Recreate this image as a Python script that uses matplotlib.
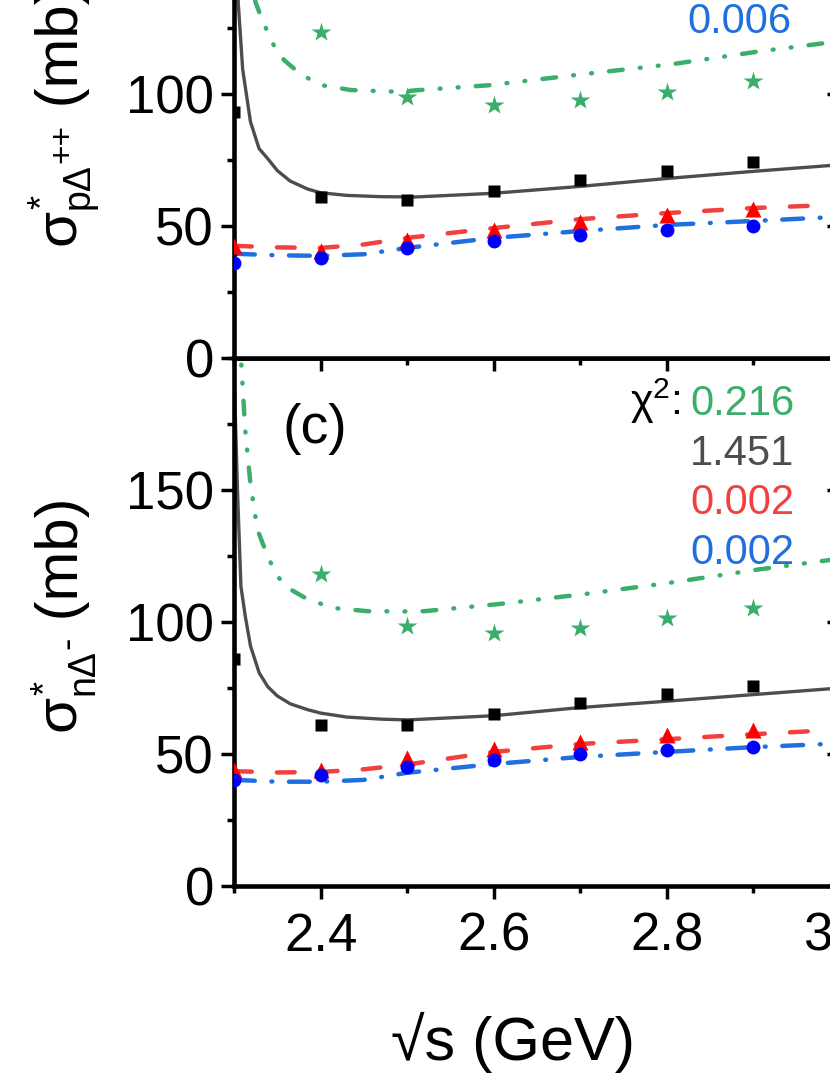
import matplotlib
matplotlib.use('Agg')
import matplotlib.pyplot as plt
from matplotlib.ticker import MultipleLocator, FormatStrFormatter, FixedLocator

plt.rcParams['font.family'] = ['Liberation Sans', 'DejaVu Sans']
plt.rcParams['mathtext.fontset'] = 'custom'
plt.rcParams['mathtext.rm'] = 'Liberation Sans'
plt.rcParams['mathtext.it'] = 'Liberation Sans:italic'
plt.rcParams['mathtext.bf'] = 'Liberation Sans:bold'
plt.rcParams['mathtext.sf'] = 'Liberation Sans'
plt.rcParams['lines.scale_dashes'] = False

# ---------------- data ----------------
x_pts = [2.3, 2.4, 2.5, 2.6, 2.7, 2.8, 2.9]
x_star = [2.4, 2.5, 2.6, 2.7, 2.8, 2.9]

# top panel: p Delta++
top_sq = [93.2, 60.9, 59.8, 63.2, 67.3, 71.0, 74.4]
top_tri = [42.5, 40.6, 44.7, 48.5, 51.5, 54.1, 56.4]
top_cir = [36.1, 38.0, 41.7, 44.4, 46.6, 48.5, 50.0]
top_star = [123.3, 98.9, 95.9, 97.7, 100.7, 104.9]

top_gray_x = [2.301, 2.305, 2.310, 2.319, 2.329, 2.339, 2.35, 2.365, 2.385, 2.4, 2.43, 2.47, 2.51, 2.6, 2.7, 2.8, 2.9, 3.0]
top_gray_y = [175.0, 134.0, 109.4, 89.5, 79.3, 75.5, 71.0, 67.0, 64.0, 62.6, 61.6, 61.1, 61.0, 62.4, 65.0, 68.0, 70.7, 73.2]
top_green_x = [2.303, 2.31, 2.318, 2.325, 2.334, 2.346, 2.358, 2.377, 2.4, 2.435, 2.492, 2.51, 2.594, 2.703, 2.806, 2.906, 3.0]
top_green_y = [260.0, 180.0, 148.0, 134.6, 127.0, 118.4, 112.8, 107.5, 103.4, 101.5, 100.8, 101.4, 103.3, 107.5, 111.3, 116.1, 120.0]
top_red_x = [2.3, 2.35, 2.4, 2.45, 2.5, 2.6, 2.7, 2.8, 2.9, 3.0]
top_red_y = [42.5, 41.9, 41.7, 43.0, 45.5, 49.2, 52.6, 54.9, 56.8, 58.1]
top_blue_x = [2.3, 2.35, 2.4, 2.45, 2.5, 2.6, 2.7, 2.8, 2.9, 3.0]
top_blue_y = [39.5, 38.9, 38.7, 39.3, 41.7, 45.5, 48.1, 50.4, 51.9, 53.5]

# bottom panel: n Delta-
bot_sq = [86.1, 60.9, 60.9, 65.0, 69.2, 72.9, 75.9]
bot_tri = [44.0, 44.0, 48.5, 51.9, 54.5, 57.1, 59.0]
bot_cir = [40.2, 42.1, 45.1, 47.7, 50.0, 51.5, 52.6]
bot_star = [118.0, 98.5, 95.9, 97.7, 101.5, 105.3]

bot_gray_x = [2.3005, 2.304, 2.308, 2.313, 2.319, 2.329, 2.339, 2.35, 2.365, 2.385, 2.4, 2.43, 2.47, 2.5, 2.6, 2.7, 2.8, 2.9, 3.0]
bot_gray_y = [189.5, 150.0, 113.5, 102.2, 91.0, 80.8, 75.5, 72.0, 69.0, 66.8, 65.5, 64.0, 63.2, 62.9, 64.5, 67.6, 70.0, 72.5, 75.0]
bot_green_x = [2.303, 2.308, 2.313, 2.319, 2.327, 2.339, 2.35, 2.365, 2.385, 2.415, 2.454, 2.5, 2.52, 2.606, 2.703, 2.8, 2.906, 3.0]
bot_green_y = [260.0, 200.0, 172.6, 152.3, 135.0, 124.8, 117.3, 112.4, 108.6, 105.3, 104.1, 104.0, 104.1, 106.8, 110.5, 114.7, 119.9, 124.0]
bot_red_x = [2.3, 2.35, 2.4, 2.45, 2.5, 2.6, 2.7, 2.8, 2.9, 3.0]
bot_red_y = [43.5, 43.0, 43.2, 44.2, 46.0, 50.8, 53.8, 55.6, 57.5, 59.2]
bot_blue_x = [2.3, 2.35, 2.4, 2.45, 2.5, 2.6, 2.7, 2.8, 2.9, 3.0]
bot_blue_y = [40.2, 39.5, 39.5, 40.2, 42.9, 46.2, 48.9, 50.8, 52.6, 54.0]

chi_bottom = ['0.216', '1.451', '0.002', '0.002']
chi_top_visible = '0.006'

# ---------------- style ----------------
C_GREEN = '#3AAE6A'
C_GRAY = '#4D4D4D'
C_RED = '#F04040'
C_BLUE = '#1F6FDE'
C_TRI = '#FF0000'
C_CIR = '#0000FF'

W, H = 830, 1075
fig = plt.figure(figsize=(W / 100, H / 100), dpi=100)

L, R = 234, 840
B_bot, T_bot = 886, 358
ph = (B_bot - T_bot)

ax_bot = fig.add_axes([L / W, 1 - B_bot / H, (R - L) / W, ph / H])
ax_top = fig.add_axes([L / W, 1 - T_bot / H, (R - L) / W, ph / H])

SPW = 3.3
LW_D = 3.2

def draw(ax, sq, tri, cir, star, gx, gy, grx, gry, rx, ry, bx, by):
    ax.plot(grx, gry, color=C_GREEN, lw=LW_D, dash_capstyle='round',
            linestyle=(0, (9.9, 12.4, 0.6, 12.4, 0.6, 12.4)), zorder=2)
    ax.plot(gx, gy, color=C_GRAY, lw=2.4, zorder=2)
    ax.plot(rx, ry, color=C_RED, lw=LW_D, dash_capstyle='round',
            linestyle=(0, (12.8, 18.1)), zorder=2)
    ax.plot(bx, by, color=C_BLUE, lw=LW_D, dash_capstyle='round',
            linestyle=(0, (15, 12, 0.6, 12)), zorder=2)
    ax.plot(x_pts, sq, 's', color='black', ms=8.8, mec='none', zorder=3)
    ax.plot(x_pts, tri, '^', color=C_TRI, ms=12, mec='none', zorder=3)
    ax.plot(x_pts, cir, 'o', color=C_CIR, ms=10, mec='none', zorder=4)
    ax.plot(x_star, star, '*', color=C_GREEN, ms=15, mec='none', zorder=4)

    ax.set_xlim(2.3, 3.0)
    ax.set_ylim(0, 200)
    for s in ax.spines.values():
        s.set_linewidth(SPW)
    ax.xaxis.set_major_locator(MultipleLocator(0.2))
    ax.xaxis.set_minor_locator(MultipleLocator(0.1))
    ax.xaxis.set_major_formatter(FormatStrFormatter('%.1f'))
    ax.yaxis.set_minor_locator(MultipleLocator(25))
    ax.tick_params(which='major', direction='out', length=9.4, width=2.5,
                   labelsize=38, pad=5)
    ax.tick_params(which='minor', direction='out', length=5, width=2.5)
    ax.tick_params(top=False, right=False)
    sec = ax.secondary_yaxis('right')
    sec.yaxis.set_major_locator(MultipleLocator(50))
    sec.yaxis.set_minor_locator(MultipleLocator(25))
    sec.tick_params(which='major', direction='in', length=9.4, width=2.5, labelright=False)
    sec.tick_params(which='minor', direction='in', length=5, width=2.5)
    sec.spines['right'].set_linewidth(SPW)

draw(ax_top, top_sq, top_tri, top_cir, top_star, top_gray_x, top_gray_y,
     top_green_x, top_green_y, top_red_x, top_red_y, top_blue_x, top_blue_y)
draw(ax_bot, bot_sq, bot_tri, bot_cir, bot_star, bot_gray_x, bot_gray_y,
     bot_green_x, bot_green_y, bot_red_x, bot_red_y, bot_blue_x, bot_blue_y)

ax_top.yaxis.set_major_locator(MultipleLocator(50))
ax_top.tick_params(axis='x', labelbottom=False)
ax_bot.yaxis.set_major_locator(FixedLocator([0, 50, 100, 150]))
ax_bot.tick_params(axis='x', pad=9)

def px(x):
    return x / W

def py(y):
    return 1 - y / H

renderer = fig.canvas.get_renderer()

def vlabel(pieces, y_start):
    """Place rotated text pieces upward from y_start (pixels from top)."""
    y = y_start
    for txt, size, bx, adv in pieces:
        t = fig.text(px(bx), py(y), txt, rotation=90, rotation_mode='anchor',
                     ha='left', va='baseline', fontsize=size)
        if adv:
            ext = t.get_window_extent(renderer)
            y -= ext.height

# y labels (sigma with superscript * and subscript)
vlabel([('σ', 42, 74, True), ('*', 26, 56, False), ('nΔ', 27, 93, True),
        ('-', 27, 78, True), (' (mb)', 43, 78, True)], 731)
vlabel([('σ', 42, 74, True), ('*', 26, 53, False), ('pΔ', 27, 89, True),
        ('++', 24, 71, True), (' (mb)', 43, 78, True)], 245)

# x label
fig.text(px(513), py(1060), '√s (GeV)', ha='center', va='baseline', fontsize=44)

# panel label
fig.text(px(315), py(443), '(c)', ha='center', va='baseline', fontsize=40)

# chi2 blocks
fig.text(px(681), py(415), r'$\mathregular{χ^{2}}$:', ha='right', va='baseline', fontsize=31)
chi_cols = [C_GREEN, C_GRAY, C_RED, C_BLUE]
for i, (t, c) in enumerate(zip(chi_bottom, chi_cols)):
    fig.text(px(690), py(415 + 49.7 * i), t, color=c, ha='left', va='baseline', fontsize=30)
fig.text(px(687), py(33), chi_top_visible, color=C_BLUE, ha='left', va='baseline', fontsize=30)

fig.savefig('out.png', dpi=100)
